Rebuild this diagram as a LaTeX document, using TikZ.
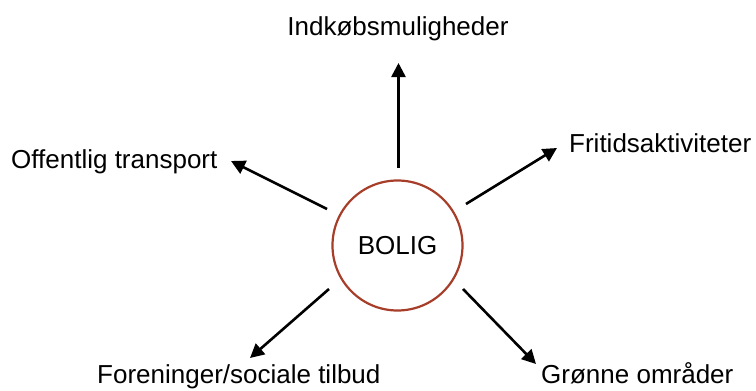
\documentclass[tikz,border=0pt]{standalone}
\usepackage{fontspec}
\setmainfont{Liberation Sans}
\usetikzlibrary{arrows.meta}
\definecolor{ringred}{RGB}{166,62,42}
\tikzset{
  lbl/.style={inner sep=0pt, font=\fontsize{26}{31}\selectfont},
  ring/.style={circle, draw=ringred, line width=2.2pt, minimum size=130pt, inner sep=0pt, font=\fontsize{26}{31}\selectfont},
  arr/.style={line width=2.6pt, -{Triangle[length=14pt,width=14pt]}}
}
\begin{document}
\begin{tikzpicture}[x=1pt,y=-1pt]
\useasboundingbox (0,0) rectangle (756,391);
\node[ring] (bolig) at (397.5,245.5) {BOLIG};
\node[lbl, anchor=base] (top) at (398,35) {Indkøbsmuligheder};
\node[lbl, anchor=base west] (off) at (11,168) {Offentlig transport};
\node[lbl, anchor=base west] (fri) at (569,152) {Fritidsaktiviteter};
\node[lbl, anchor=base west] (for) at (97,383.5) {Foreninger/sociale tilbud};
\node[lbl, anchor=base west] (gro) at (541,383.5) {Grønne områder};
\coordinate (s1) at (398.5,168);
\coordinate (t1) at (398.5,63);
\coordinate (s2) at (327,209);
\coordinate (t2) at (231,161);
\coordinate (s3) at (466,204);
\coordinate (t3) at (557,148);
\coordinate (s4) at (329,289);
\coordinate (t4) at (250,358);
\coordinate (s5) at (463,289);
\coordinate (t5) at (536,364);
\draw[arr] (s1) -- (t1);
\draw[arr] (s2) -- (t2);
\draw[arr] (s3) -- (t3);
\draw[arr] (s4) -- (t4);
\draw[arr] (s5) -- (t5);
\end{tikzpicture}
\end{document}
